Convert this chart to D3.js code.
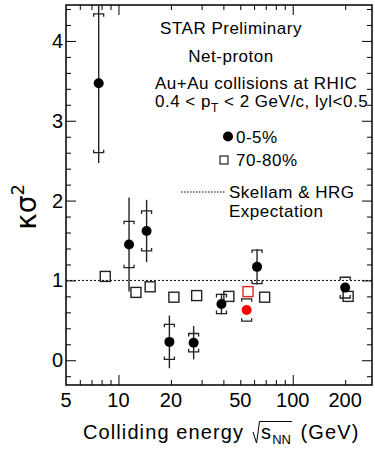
<!DOCTYPE html>
<html>
<head>
<meta charset="utf-8">
<script src="https://cdn.jsdelivr.net/npm/d3@7"></script>
<style>
  body { margin: 0; background: #fff; }
  svg { display: block; font-family: "Liberation Sans", Arial, Helvetica, sans-serif; }
</style>
</head>
<body>
<svg id="chart" width="375" height="456"></svg>
<script>
// 0-5% central (black dots)
const energyCentral = [7.7, 11.5, 14.5, 19.6, 27, 39, 62.4, 200]
const k2Central = [3.47, 1.45, 1.62, 0.23, 0.22, 0.705, 1.17, 0.91]
const statCentral = [1.0, 0.59, 0.39, 0.33, 0.21, 0.13, 0.22, 0.04]
const sysCentral = [0.87, 0.29, 0.25, 0.22, 0.115, 0.12, 0.21, 0.13]

// 54.4 GeV point (red)
const energyNew = [54.4]
const k2New = [0.63]
const statNew = [0.03]
const sysNew = [0.14]

// 70-80% peripheral (open squares), drawn slightly shifted in energy
const energyPeriph = [8.4, 12.6, 15.2, 20.8, 28.1, 43, 69, 208]
const k2Periph = [1.05, 0.85, 0.92, 0.79, 0.81, 0.80, 0.79, 0.80]
const energyPeriphNew = [55.4]
const k2PeriphNew = [0.86]

const xTickLabels = [5, 10, 20, 50, 100, 200]
const xMajor = [10, 100]
const yTickLabels = [0, 1, 2, 3, 4]

const svg = d3.select('#chart')
const pLeft = 66, pRight = 372, pTop = 5, pBottom = 385

const x = d3.scaleLog().domain([5, 285]).range([pLeft, pRight])
const y = d3.scaleLinear().domain([-0.31, 4.45]).range([pBottom, pTop])

svg.append('clipPath').attr('id', 'clip')
  .append('rect').attr('x', pLeft).attr('y', pTop).attr('width', pRight - pLeft).attr('height', pBottom - pTop)

// ticks
const xMinor = x.ticks().filter(d => xMajor.indexOf(d) < 0 && d > 5)
const yMinor = d3.range(-0.2, 4.41, 0.2).map(d => +d.toFixed(1)).filter(d => yTickLabels.indexOf(d) < 0)

function tickAxis (axis, transform, vals, size) {
  const g = svg.append('g').attr('transform', transform)
    .call(axis.tickValues(vals).tickSize(size).tickFormat(''))
  g.select('.domain').remove()
  g.selectAll('line').attr('stroke', '#000').attr('stroke-width', 1)
  return g
}
tickAxis(d3.axisBottom(x), `translate(0,${pBottom})`, xMinor, -5)
tickAxis(d3.axisBottom(x), `translate(0,${pBottom})`, xMajor, -10)
tickAxis(d3.axisTop(x), `translate(0,${pTop})`, xMinor, -5)
tickAxis(d3.axisTop(x), `translate(0,${pTop})`, xMajor, -10)
tickAxis(d3.axisLeft(y), `translate(${pLeft},0)`, yMinor, -5)
tickAxis(d3.axisLeft(y), `translate(${pLeft},0)`, yTickLabels, -10)
tickAxis(d3.axisRight(y), `translate(${pRight},0)`, yMinor, -5)
tickAxis(d3.axisRight(y), `translate(${pRight},0)`, yTickLabels, -10)

svg.append('rect')
  .attr('x', pLeft).attr('y', pTop).attr('width', pRight - pLeft).attr('height', pBottom - pTop)
  .attr('fill', 'none').attr('stroke', '#000').attr('stroke-width', 1.5)

// tick labels
svg.append('g').selectAll('text').data(xTickLabels).enter().append('text')
  .attr('x', d => x(d)).attr('y', 407)
  .attr('text-anchor', 'middle').attr('font-size', 20)
  .text(d => d)
svg.append('g').selectAll('text').data(yTickLabels).enter().append('text')
  .attr('x', 63).attr('y', d => y(d) + 7)
  .attr('text-anchor', 'end').attr('font-size', 20)
  .text(d => d)

// reference line at 1
svg.append('line')
  .attr('x1', pLeft).attr('x2', pRight).attr('y1', y(1)).attr('y2', y(1))
  .attr('stroke', '#000').attr('stroke-width', 1).attr('stroke-dasharray', '2,2')

const plot = svg.append('g').attr('clip-path', 'url(#clip)')

function drawSeries (es, vs, stat, sys, color) {
  const idx = d3.range(es.length)
  // stat error line
  plot.append('g').selectAll('line').data(idx).enter().append('line')
    .attr('x1', i => x(es[i])).attr('x2', i => x(es[i]))
    .attr('y1', i => y(vs[i] + stat[i])).attr('y2', i => y(vs[i] - stat[i]))
    .attr('stroke', '#222').attr('stroke-width', 1.4)
  // systematic brackets
  const hw = 5, leg = 3
  plot.append('g').selectAll('path').data(idx).enter().append('path')
    .attr('d', i => {
      const cx = x(es[i]), yt = y(vs[i] + sys[i]), yb = y(vs[i] - sys[i])
      return `M${cx - hw},${yt + leg}V${yt}H${cx + hw}V${yt + leg}` +
        `M${cx - hw},${yb - leg}V${yb}H${cx + hw}V${yb - leg}`
    })
    .attr('fill', 'none').attr('stroke', '#222').attr('stroke-width', 1.3)
  plot.append('g').selectAll('circle').data(idx).enter().append('circle')
    .attr('cx', i => x(es[i])).attr('cy', i => y(vs[i])).attr('r', 5)
    .attr('fill', color)
}

function drawSquares (es, vs, color) {
  const s = 10
  plot.append('g').selectAll('rect').data(d3.range(es.length)).enter().append('rect')
    .attr('x', i => x(es[i]) - s / 2).attr('y', i => y(vs[i]) - s / 2)
    .attr('width', s).attr('height', s)
    .attr('fill', 'none').attr('stroke', color).attr('stroke-width', 1.4)
}

drawSquares(energyPeriph, k2Periph, '#222')
drawSquares(energyPeriphNew, k2PeriphNew, '#e8231f')
drawSeries(energyCentral, k2Central, statCentral, sysCentral, '#000')
drawSeries(energyNew, k2New, statNew, sysNew, '#f00')

// annotation text
const ann = svg.append('g').attr('font-size', 17).attr('letter-spacing', 0.5)
ann.append('text').attr('x', 231).attr('y', 33.5).attr('text-anchor', 'middle').text('STAR Preliminary')
ann.append('text').attr('x', 231).attr('y', 61.5).attr('text-anchor', 'middle').text('Net-proton')
ann.append('text').attr('x', 155).attr('y', 89).text('Au+Au collisions at RHIC')
const pt = ann.append('text').attr('x', 155).attr('y', 106.5)
pt.append('tspan').text('0.4 < p')
pt.append('tspan').attr('font-size', 12).attr('dy', 5).text('T')
pt.append('tspan').attr('dy', -5).text(' < 2 GeV/c, lyl<0.5')

// legend
svg.append('circle').attr('cx', 228).attr('cy', 136.5).attr('r', 5).attr('fill', '#000')
svg.append('rect').attr('x', 220).attr('y', 156).attr('width', 8).attr('height', 8)
  .attr('fill', 'none').attr('stroke', '#222').attr('stroke-width', 1.2)
ann.append('text').attr('x', 236).attr('y', 142.5).text('0-5%')
ann.append('text').attr('x', 236).attr('y', 166).text('70-80%')
svg.append('line').attr('x1', 181).attr('x2', 225).attr('y1', 192).attr('y2', 192)
  .attr('stroke', '#000').attr('stroke-width', 1).attr('stroke-dasharray', '1.5,1.5')
ann.append('text').attr('x', 229).attr('y', 198).text('Skellam & HRG')
ann.append('text').attr('x', 229).attr('y', 217).text('Expectation')

// y label
const yl = svg.append('text')
  .attr('transform', 'translate(36,207) rotate(-90)')
  .attr('text-anchor', 'middle')
  .attr('font-family', '"DejaVu Sans", sans-serif')
  .attr('font-size', 28)
yl.append('tspan').text('κσ')
yl.append('tspan').attr('font-size', 18).attr('dy', -12).text('2')

// x label
const xl = svg.append('text').attr('x', 83).attr('y', 439)
  .attr('font-size', 20).attr('letter-spacing', 1.1)
xl.append('tspan').text('Colliding energy')
xl.append('tspan').attr('dx', 17).text('s')
xl.append('tspan').attr('font-size', 13).attr('dy', 5).attr('letter-spacing', 0).text('NN')
xl.append('tspan').attr('dy', -5).attr('dx', 3).text(' (GeV)')
const sPos = xl.node().getStartPositionOfChar(16)
const nnEnd = xl.node().getEndPositionOfChar(18)
svg.append('path')
  .attr('d', `M${sPos.x - 8},432 L${sPos.x - 4.5},443 L${sPos.x - 1.5},421.5 H${nnEnd.x + 1}`)
  .attr('fill', 'none').attr('stroke', '#000').attr('stroke-width', 1)
</script>
</body>
</html>
